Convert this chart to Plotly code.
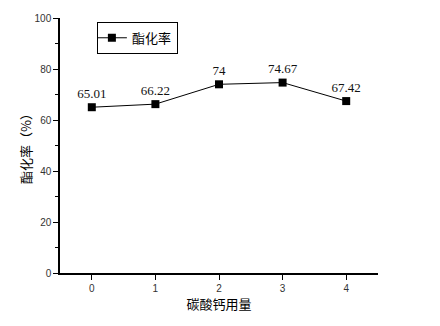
import plotly.graph_objects as go

x_vals = [0, 1, 2, 3, 4]
y_vals = [65.01, 66.22, 74, 74.67, 67.42]
labels = ["65.01", "66.22", "74", "74.67", "67.42"]
series_name = "酯化率"
x_title = "碳酸钙用量"
y_title = "酯化率（%）"

fig = go.Figure()
fig.add_trace(go.Scatter(
    x=x_vals, y=y_vals, name=series_name,
    mode="lines+markers+text",
    text=labels, textposition="top center",
    textfont=dict(family="Liberation Serif", size=13, color="#111"),
    line=dict(color="black", width=1),
    marker=dict(symbol="square", size=8, color="black"),
    cliponaxis=False,
))

axis_common = dict(
    showline=True, linecolor="black", linewidth=1.5,
    ticks="outside", tickcolor="black", ticklen=5, tickwidth=1,
    showgrid=False, zeroline=False, mirror=False,
    tickfont=dict(family="Liberation Sans", size=10, color="#333"),
)

fig.update_xaxes(range=[-0.5, 4.5], tickvals=x_vals, **axis_common,
                 title=dict(text=x_title, font=dict(family="Noto Sans CJK SC", size=13, color="black"), standoff=6))
fig.update_yaxes(range=[0, 100], tickvals=[0, 20, 40, 60, 80, 100], **axis_common,
                 minor=dict(tickvals=[10, 30, 50, 70, 90], ticks="outside", ticklen=3, tickcolor="black"),
                 title=dict(text=y_title, font=dict(family="Noto Sans CJK SC", size=13, color="black"), standoff=0))

fig.update_layout(
    width=440, height=326,
    margin=dict(l=60, r=62, t=18, b=53),
    paper_bgcolor="white", plot_bgcolor="white",
    showlegend=True,
    legend=dict(x=0.116, y=0.985, xanchor="left", yanchor="top",
                bordercolor="black", borderwidth=1, bgcolor="white",
                font=dict(family="Noto Sans CJK SC", size=13, color="black"),
                itemwidth=30, tracegroupgap=0, indentation=-6),
)

fig.write_html("out.html")
